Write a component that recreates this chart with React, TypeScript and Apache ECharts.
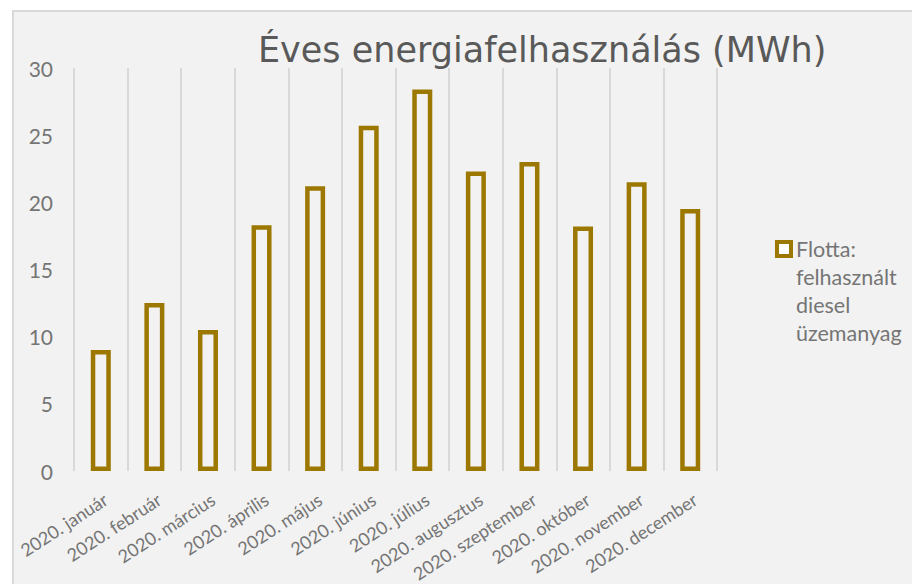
import React, { useEffect, useRef } from "react";
import * as echarts from "echarts";

const titleText = "Éves energiafelhasználás (MWh)";
const seriesName = "Flotta: felhasznált diesel üzemanyag";
const months = [
  "2020. január",
  "2020. február",
  "2020. március",
  "2020. április",
  "2020. május",
  "2020. június",
  "2020. július",
  "2020. augusztus",
  "2020. szeptember",
  "2020. október",
  "2020. november",
  "2020. december",
];
const dieselValues = [9.0, 12.5, 10.5, 18.3, 21.2, 25.7, 28.4, 22.3, 23.0, 18.2, 21.5, 19.5];
const yMin = 0;
const yMax = 30;
const yStep = 5;

const GOLD = "#9c7800";
const FONT = "Lato, 'Open Sans', sans-serif";

export default function App() {
  const ref = useRef<HTMLDivElement>(null);
  useEffect(() => {
    if (!ref.current) return;
    const chart = echarts.init(ref.current, undefined, { renderer: "svg" });
    chart.setOption({
      animation: false,
      backgroundColor: "#ffffff",
      textStyle: { fontFamily: FONT },
      graphic: [
        {
          type: "rect",
          silent: true,
          z: -10,
          zlevel: 0,
          shape: { x: 13, y: 11, width: 920, height: 600 },
          style: { fill: "#f2f2f2", stroke: "#d9d9d9", lineWidth: 2 },
        },
      ],
      title: {
        text: titleText,
        left: 253,
        top: 27,
        textStyle: {
          fontFamily: "'DejaVu Sans', 'Open Sans', sans-serif",
          fontSize: 35,
          fontWeight: "normal",
          color: "#595959",
        },
      },
      legend: {
        orient: "vertical",
        left: 770,
        top: 146,
        itemWidth: 14,
        itemHeight: 14,
        icon: "rect",
        itemStyle: { color: "#ffffff", borderColor: GOLD, borderWidth: 4 },
        formatter: (name: string) => "\n\n\n" + name.split(" ").join("\n"),
        textStyle: {
          fontFamily: FONT,
          fontSize: 21.5,
          color: "#757575",
          lineHeight: 28,
        },
      },
      grid: { left: 74, right: 195, top: 68, bottom: 113, outerBoundsMode: "none", containLabel: false },
      xAxis: {
        type: "category",
        data: months,
        axisLine: { show: false },
        axisTick: { show: false },
        splitLine: { show: true, lineStyle: { color: "#d9d9d9", width: 2 } },
        axisLabel: {
          rotate: 33,
          interval: 0,
          margin: 19,
          verticalAlign: "top",
          fontFamily: FONT,
          fontSize: 18,
          color: "#757575",
        },
      },
      yAxis: {
        type: "value",
        min: yMin,
        max: yMax,
        interval: yStep,
        axisLine: { show: false },
        axisTick: { show: false },
        splitLine: { show: false },
        axisLabel: {
          margin: 21,
          fontFamily: FONT,
          fontSize: 21,
          color: "#757575",
        },
      },
      series: [
        {
          name: seriesName,
          type: "bar",
          data: dieselValues,
          barWidth: 20,
          itemStyle: {
            color: "rgba(242,242,242,0)",
            borderColor: GOLD,
            borderWidth: 4.5,
          },
        },
      ],
    });
    return () => chart.dispose();
  }, []);
  return (
    <div
      ref={ref}
      style={{ position: "fixed", left: 0, top: 0, width: 912, height: 584 }}
    />
  );
}
